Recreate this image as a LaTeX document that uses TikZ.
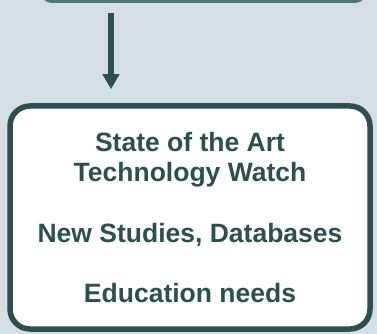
\documentclass[tikz,border=0pt]{standalone}
\usepackage{fontspec}
\setmainfont{Liberation Sans}
\usetikzlibrary{arrows.meta}
\definecolor{bgc}{RGB}{214,222,229}
\definecolor{dark}{RGB}{47,79,79}
\definecolor{topc}{RGB}{79,119,117}
\tikzset{
  infobox/.style={draw=dark, line width=5.5pt, fill=white, rounded corners=20pt,
    minimum width=360pt, minimum height=223pt, align=center, text=dark,
    font=\bfseries\fontsize{26.5}{30.5}\selectfont, inner sep=0pt},
  upbox/.style={fill=topc, rounded corners=12pt, minimum width=327pt, minimum height=60pt, inner sep=0pt},
  flow/.style={draw=dark, line width=5.5pt, -{Triangle[width=16pt,length=15pt]}}
}
\begin{document}
\begin{tikzpicture}[x=1pt,y=-1pt]
\fill[bgc] (0,0) rectangle (377,334);
\useasboundingbox (0,0) rectangle (377,334);
\begin{scope}
\clip (0,0) rectangle (377,334);
\node[upbox] (top) at (203.5,-27) {};
\end{scope}
\node[infobox] (main) at (190,217.5) {State of the Art\\Technology Watch\\[30pt]New Studies, Databases\\[30pt]Education needs};
\coordinate (ax) at (111,0);
\draw[flow, shorten <=10pt, shorten >=14pt] (top.south -| ax) -- (main.north -| ax);
\end{tikzpicture}
\end{document}
